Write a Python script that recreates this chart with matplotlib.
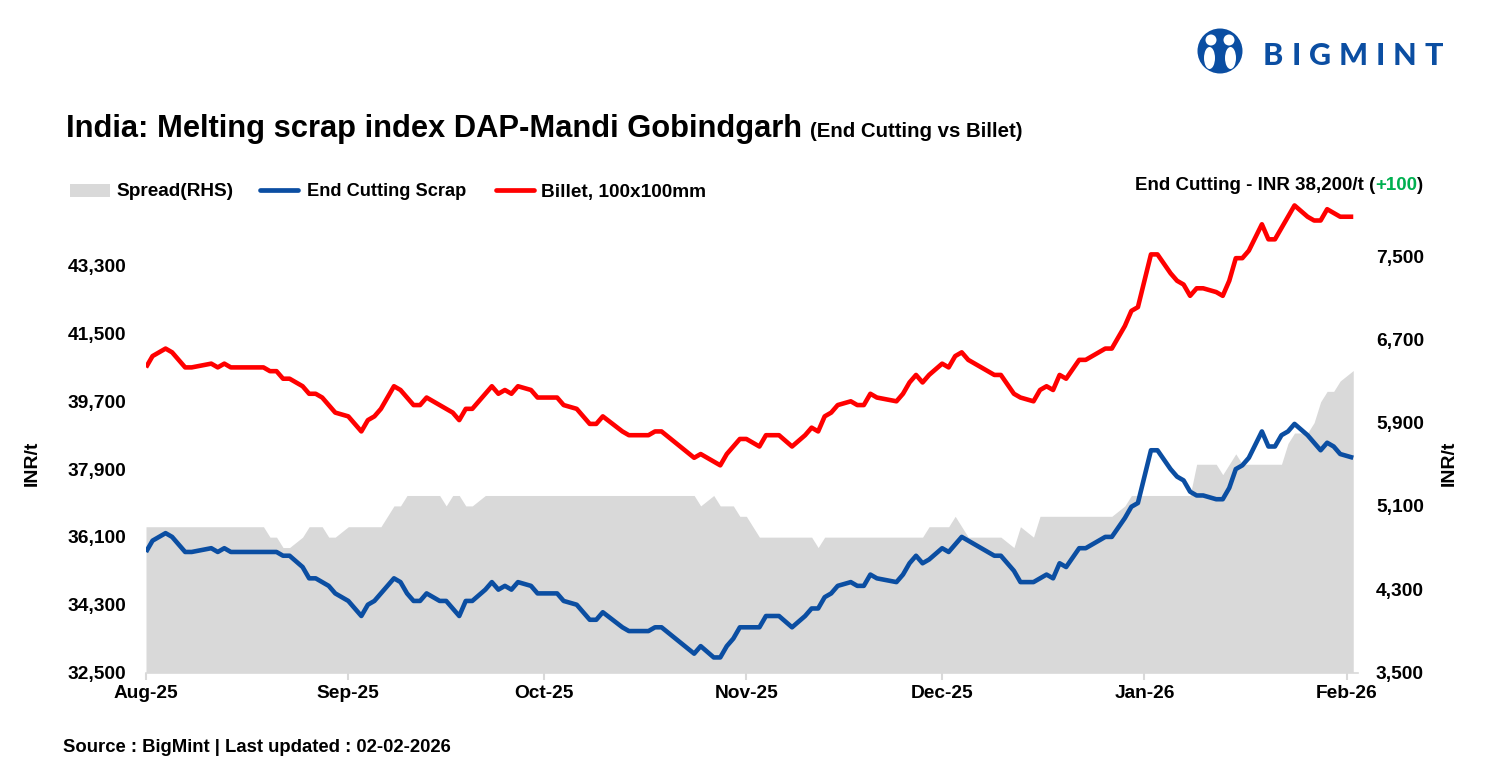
import matplotlib
matplotlib.use("Agg")
import matplotlib.pyplot as plt
import matplotlib.dates as mdates
import pandas as pd
from matplotlib.patches import Rectangle, Circle, Ellipse, Polygon
from matplotlib.lines import Line2D
from matplotlib.ticker import FuncFormatter

plt.rcParams['font.family'] = ['Liberation Sans', 'DejaVu Sans']
plt.rcParams['font.weight'] = 'bold'

# ---------------- data ----------------
dates = [
    '2025-08-01', '2025-08-02', '2025-08-04', '2025-08-05', '2025-08-07', '2025-08-08', '2025-08-11',
    '2025-08-12', '2025-08-13', '2025-08-14', '2025-08-19', '2025-08-20', '2025-08-21', '2025-08-22',
    '2025-08-23', '2025-08-25', '2025-08-26', '2025-08-27', '2025-08-28', '2025-08-29', '2025-08-30',
    '2025-09-01', '2025-09-03', '2025-09-04', '2025-09-05', '2025-09-06', '2025-09-08', '2025-09-09',
    '2025-09-10', '2025-09-11', '2025-09-12', '2025-09-13', '2025-09-15', '2025-09-16', '2025-09-17',
    '2025-09-18', '2025-09-19', '2025-09-20', '2025-09-22', '2025-09-23', '2025-09-24', '2025-09-25',
    '2025-09-26', '2025-09-27', '2025-09-29', '2025-09-30',
    '2025-10-03', '2025-10-04', '2025-10-06', '2025-10-08', '2025-10-09', '2025-10-10', '2025-10-13',
    '2025-10-14', '2025-10-17', '2025-10-18', '2025-10-19', '2025-10-24', '2025-10-25', '2025-10-27',
    '2025-10-28', '2025-10-29', '2025-10-30', '2025-10-31',
    '2025-11-01', '2025-11-03', '2025-11-04', '2025-11-06', '2025-11-08', '2025-11-10', '2025-11-11',
    '2025-11-12', '2025-11-13', '2025-11-14', '2025-11-15', '2025-11-17', '2025-11-18', '2025-11-19',
    '2025-11-20', '2025-11-21', '2025-11-24', '2025-11-25', '2025-11-26', '2025-11-27', '2025-11-28',
    '2025-11-29',
    '2025-12-01', '2025-12-02', '2025-12-03', '2025-12-04', '2025-12-05', '2025-12-06', '2025-12-09',
    '2025-12-10', '2025-12-12', '2025-12-13', '2025-12-15', '2025-12-16', '2025-12-17', '2025-12-18',
    '2025-12-19', '2025-12-20', '2025-12-22', '2025-12-23', '2025-12-26', '2025-12-27', '2025-12-29',
    '2025-12-30', '2025-12-31',
    '2026-01-02', '2026-01-03', '2026-01-05', '2026-01-06', '2026-01-07', '2026-01-08', '2026-01-09',
    '2026-01-10', '2026-01-12', '2026-01-13', '2026-01-14', '2026-01-15', '2026-01-16', '2026-01-17',
    '2026-01-19', '2026-01-20', '2026-01-21', '2026-01-22', '2026-01-23', '2026-01-24', '2026-01-26',
    '2026-01-27', '2026-01-28', '2026-01-29', '2026-01-30', '2026-01-31',
    '2026-02-02',
]

end_cutting = [
    35700, 36000, 36200, 36100, 35700, 35700, 35800, 35700, 35800, 35700, 35700, 35700, 35700, 35600,
    35600, 35300, 35000, 35000, 34900, 34800, 34600,
    34400, 34000, 34300, 34400, 34600, 35000, 34900, 34600, 34400, 34400, 34600, 34400, 34400, 34200,
    34000, 34400, 34400, 34700, 34900, 34700, 34800, 34700, 34900, 34800, 34600,
    34600, 34400, 34300, 33900, 33900, 34100, 33700, 33600, 33600, 33700, 33700, 33000, 33200, 32900,
    32900, 33200, 33400, 33700,
    33700, 33700, 34000, 34000, 33700, 34000, 34200, 34200, 34500, 34600, 34800, 34900, 34800, 34800,
    35100, 35000, 34900, 35100, 35400, 35600, 35400, 35500,
    35800, 35700, 35900, 36100, 36000, 35900, 35600, 35600, 35200, 34900, 34900, 35000, 35100, 35000,
    35400, 35300, 35800, 35800, 36100, 36100, 36600, 36900, 37000,
    38400, 38400, 37900, 37700, 37600, 37300, 37200, 37200, 37100, 37100, 37400, 37900, 38000, 38200,
    38900, 38500, 38500, 38800, 38900, 39100, 38800, 38600, 38400, 38600, 38500, 38300,
    38200,
]

billet = [
    40600, 40900, 41100, 41000, 40600, 40600, 40700, 40600, 40700, 40600, 40600, 40500, 40500, 40300,
    40300, 40100, 39900, 39900, 39800, 39600, 39400,
    39300, 38900, 39200, 39300, 39500, 40100, 40000, 39800, 39600, 39600, 39800, 39600, 39500, 39400,
    39200, 39500, 39500, 39900, 40100, 39900, 40000, 39900, 40100, 40000, 39800,
    39800, 39600, 39500, 39100, 39100, 39300, 38900, 38800, 38800, 38900, 38900, 38200, 38300, 38100,
    38000, 38300, 38500, 38700,
    38700, 38500, 38800, 38800, 38500, 38800, 39000, 38900, 39300, 39400, 39600, 39700, 39600, 39600,
    39900, 39800, 39700, 39900, 40200, 40400, 40200, 40400,
    40700, 40600, 40900, 41000, 40800, 40700, 40400, 40400, 39900, 39800, 39700, 40000, 40100, 40000,
    40400, 40300, 40800, 40800, 41100, 41100, 41700, 42100, 42200,
    43600, 43600, 43100, 42900, 42800, 42500, 42700, 42700, 42600, 42500, 42900, 43500, 43500, 43700,
    44400, 44000, 44000, 44300, 44600, 44900, 44600, 44500, 44500, 44800, 44700, 44600,
    44600,
]

spread = [
    4900, 4900, 4900, 4900, 4900, 4900, 4900, 4900, 4900, 4900, 4900, 4800, 4800, 4700,
    4700, 4800, 4900, 4900, 4900, 4800, 4800,
    4900, 4900, 4900, 4900, 4900, 5100, 5100, 5200, 5200, 5200, 5200, 5200, 5100, 5200,
    5200, 5100, 5100, 5200, 5200, 5200, 5200, 5200, 5200, 5200, 5200,
    5200, 5200, 5200, 5200, 5200, 5200, 5200, 5200, 5200, 5200, 5200, 5200, 5100, 5200,
    5100, 5100, 5100, 5000,
    5000, 4800, 4800, 4800, 4800, 4800, 4800, 4700, 4800, 4800, 4800, 4800, 4800, 4800,
    4800, 4800, 4800, 4800, 4800, 4800, 4800, 4900,
    4900, 4900, 5000, 4900, 4800, 4800, 4800, 4800, 4700, 4900, 4800, 5000, 5000, 5000,
    5000, 5000, 5000, 5000, 5000, 5000, 5100, 5200, 5200,
    5200, 5200, 5200, 5200, 5200, 5200, 5500, 5500, 5500, 5400, 5500, 5600, 5500, 5500,
    5500, 5500, 5500, 5500, 5700, 5800, 5800, 5900, 6100, 6200, 6200, 6300,
    6400,
]

latest_price = 38200
latest_change = 100

left_ticks = [32500, 34300, 36100, 37900, 39700, 41500, 43300]
right_ticks = [3500, 4300, 5100, 5900, 6700, 7500]
month_ticks = ['2025-08-01', '2025-09-01', '2025-10-01', '2025-11-01', '2025-12-01', '2026-01-01', '2026-02-01']
month_labels = ['Aug-25', 'Sep-25', 'Oct-25', 'Nov-25', 'Dec-25', 'Jan-26', 'Feb-26']

title = 'India: Melting scrap index DAP-Mandi Gobindgarh'
subtitle = '(End Cutting vs Billet)'
legend_labels = ['Spread(RHS)', 'End Cutting Scrap', 'Billet, 100x100mm']
source = 'Source : BigMint | Last updated : 02-02-2026'

# ---------------- layout ----------------
W, H = 1489, 776
fig = plt.figure(figsize=(W / 100, H / 100), dpi=100)
renderer = fig.canvas.get_renderer()

BLUE = '#0B4EA2'
RED = '#FF0000'
GREY = '#D9D9D9'
GREEN = '#00B050'

ax_l, ax_r, ax_t, ax_b = 146, 1357.5, 197.9, 672.5
ax = fig.add_axes([ax_l / W, 1 - ax_b / H, (ax_r - ax_l) / W, (ax_b - ax_t) / H])
ax2 = ax.twinx()
ax.set_zorder(ax2.get_zorder() + 1)
ax.patch.set_visible(False)

xd = mdates.date2num(pd.to_datetime(dates))
ax2.fill_between(xd, spread, right_ticks[0], color=GREY, lw=0)
ax.plot(xd, end_cutting, color=BLUE, lw=3.3, solid_joinstyle='round', solid_capstyle='butt')
ax.plot(xd, billet, color=RED, lw=3.3, solid_joinstyle='round', solid_capstyle='butt')

ax.set_xlim(xd[0], xd[-1] + 0.65)
ax.set_ylim(32500, 45100)
ax2.set_ylim(3500, 8058)
ax.set_yticks(left_ticks)
ax2.set_yticks(right_ticks)
fmt = FuncFormatter(lambda v, p: f'{int(v):,}')
ax.yaxis.set_major_formatter(fmt)
ax2.yaxis.set_major_formatter(fmt)
ax.set_xticks(mdates.date2num(pd.to_datetime(month_ticks)))
ax.set_xticklabels(month_labels)

for a in (ax, ax2):
    for s in ('top', 'left', 'right'):
        a.spines[s].set_visible(False)
ax2.spines['bottom'].set_visible(False)
ax.spines['bottom'].set_color(GREY)
ax.spines['bottom'].set_linewidth(1.2)

ax.tick_params(axis='x', length=5, width=1.5, color=GREY, pad=4, labelsize=13.8)
ax.tick_params(axis='y', length=0, pad=14.4, labelsize=13.8)
ax2.tick_params(axis='y', length=0, pad=13.3, labelsize=13.8)

# ---------------- overlay (pixel coordinates) ----------------
ov = fig.add_axes([0, 0, 1, 1])
ov.set_xlim(0, W)
ov.set_ylim(H, 0)
ov.axis('off')
ov.patch.set_visible(False)


def fit(x, y, s, target, color='black', ha='left', **kw):
    t = ov.text(x, y, s, fontsize=10, ha=ha, va='baseline', fontweight='bold', color=color, **kw)
    w = t.get_window_extent(renderer).width
    t.set_fontsize(10 * target / w)
    return t


fit(66, 137, title, 737)
fit(810, 137, subtitle, 214)

# legend
ov.add_patch(Rectangle((70, 184), 40, 13, color=GREY, lw=0))
ov.add_line(Line2D([260, 298], [190, 190], color=BLUE, lw=3.4, solid_capstyle='round'))
ov.add_line(Line2D([496, 534], [190, 190], color=RED, lw=3.4, solid_capstyle='round'))
fit(116, 196.5, legend_labels[0], 117)
fit(307, 196.5, legend_labels[1], 160)
fit(541, 196.5, legend_labels[2], 165)

# right annotation with coloured change
parts = [(f'End Cutting - INR {latest_price:,}/t (', 'black'),
         (f'{latest_change:+,}', GREEN), (')', 'black')]
texts = [ov.text(0, 189.5, p, fontsize=10, fontweight='bold', color=c, va='baseline') for p, c in parts]
tot = sum(t.get_window_extent(renderer).width for t in texts)
size = 10 * 290 / tot
cur = 1425 - 290
for t in texts:
    t.set_fontsize(size)
    t.set_x(cur)
    cur += t.get_window_extent(renderer).width

# axis titles
ov.text(32, 463, 'INR/t', rotation=90, ha='center', va='center', fontsize=14, fontweight='bold')
ov.text(1449, 463, 'INR/t', rotation=90, ha='center', va='center', fontsize=14, fontweight='bold')

# source
fit(63, 751.5, source, 388)

# logo
ov.add_patch(Circle((1220, 51), 22.5, color=BLUE, lw=0))
ov.add_patch(Circle((1211, 40), 5.5, color='white', lw=0))
ov.add_patch(Circle((1229, 40), 5.5, color='white', lw=0))
ov.add_patch(Ellipse((1209.5, 58), 11, 22, color='white', lw=0))
ov.add_patch(Ellipse((1230.5, 58), 11, 22, color='white', lw=0))
ov.add_patch(Polygon([(1213, 72), (1220, 56), (1227, 72)], closed=True, color=BLUE, lw=0))

letters = 'BIGMINT'
lt = [ov.text(0, 65, ch, fontsize=22, fontweight=900, color=BLUE, va='baseline',
              family=['Lato', 'Liberation Sans']) for ch in letters]
widths = [t.get_window_extent(renderer).width for t in lt]
gap = (1443 - 1263 - sum(widths)) / (len(letters) - 1)
cur = 1263
for t, w in zip(lt, widths):
    t.set_x(cur)
    cur += w + gap

fig.savefig('out.png', dpi=100)
